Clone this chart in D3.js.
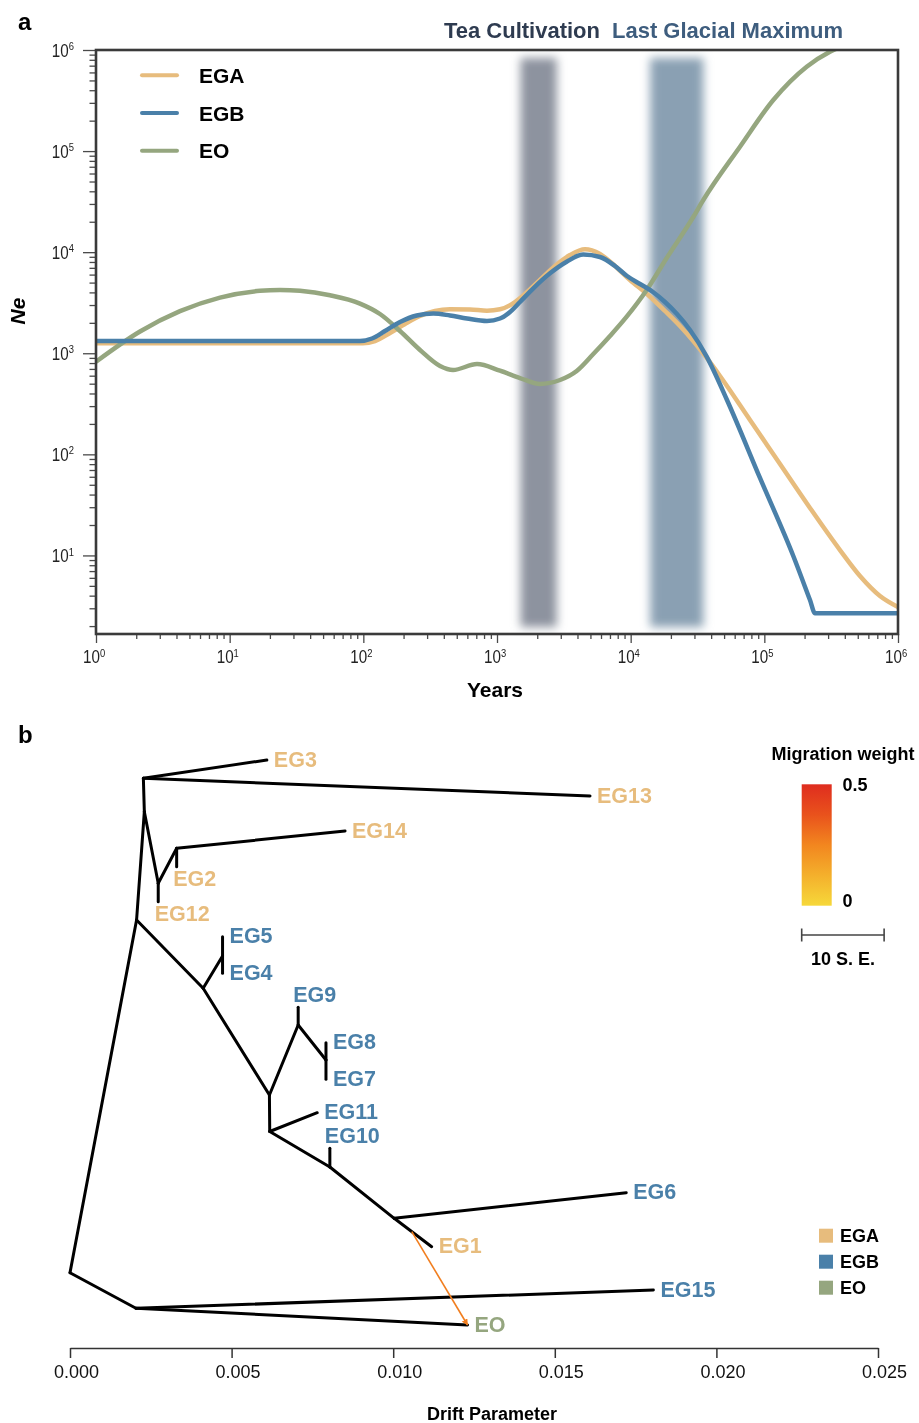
<!DOCTYPE html>
<html>
<head>
<meta charset="utf-8">
<script src="https://cdn.jsdelivr.net/npm/d3@7"></script>
<style>
  body { margin: 0; background: #fff; }
  svg { display: block; font-family: "Liberation Sans", Arial, Helvetica, sans-serif; }
</style>
</head>
<body>
<svg id="chart" width="919" height="1423"></svg>
<script>
// ---------- panel a: effective population size, [years, Ne]
const egaCurve = [
  [1, 1255], [10, 1255], [99.4, 1255], [122.3, 1322], [158.3, 1587], [205, 1948], [265.4, 2337],
  [343.7, 2619], [444.9, 2722], [628.1, 2710], [841.6, 2637], [1053, 2722], [1317, 3106],
  [1620, 3857], [2097, 5306], [2715, 7302], [3516, 9378], [4553, 10680], [5895, 9594],
  [7633, 7302], [9886, 5306], [13250, 3857], [18060, 2619], [23390, 1860], [29410, 1322],
  [36600, 919], [46580, 596], [78120, 219], [131000, 80.3], [219600, 29.5], [368100, 11.3],
  [519500, 6.26], [733300, 3.97], [1e6, 3.09]
];
const egbCurve = [
  [1, 1322], [10, 1322], [94.4, 1322], [116.1, 1400], [145.2, 1661], [188.1, 2039], [250.7, 2363],
  [333.8, 2474], [444.9, 2363], [596.4, 2207], [841.6, 2085], [1053, 2207], [1251, 2560],
  [1486, 3215], [1869, 4392], [2491, 6182], [3321, 8049], [4421, 9484], [5895, 8963],
  [7633, 7302], [9387, 5813], [11740, 4844], [14690, 4036], [18060, 3215], [22210, 2446],
  [27790, 1699], [37050, 925], [52560, 345], [92770, 58.4], [164700, 9.87], [219600, 3.62],
  [239300, 2.68], [1e6, 2.68]
];
const eoCurve = [
  [1, 825], [2.134, 1642], [4.25, 2607], [8.47, 3554], [16.86, 4148], [23.8, 4225], [33.6, 4148],
  [56.3, 3745], [94.4, 3099], [133.2, 2446], [188.1, 1661], [265.4, 1077], [374.6, 748],
  [468.8, 683], [708.7, 783], [1053, 672], [1486, 569], [2097, 497], [2960, 544], [3947, 668],
  [5253, 983], [7005, 1482], [9338, 2300], [13180, 4225], [18600, 8759], [29400, 22280],
  [34940, 32830], [65740, 110500], [116700, 320200], [207400, 683800], [309800, 962100],
  [401200, 1120000]
];
const populations = ["EGA", "EGB", "EO"];
const popCurves = [egaCurve, egbCurve, eoCurve];
const popColors = ["#e7bc7d", "#4a80a9", "#95a67f"];

const periodNames = ["Tea Cultivation", "Last Glacial Maximum"];
const periodYears = [[1500, 2800], [14000, 35000]];
const periodFill = ["#8d939f", "#8aa0b3"];
const periodText = ["#2e3b50", "#3e5d7e"];

// ---------- panel b: TreeMix tree, [id, drift, vertical row]
const treeNodes = [
  ["R", 0, 53.27], ["A", 0.00227, 3.83], ["B", 0.00230, 7.17], ["C", 0.00273, 14.33],
  ["E", 0.00330, 10.83], ["D", 0.00206, 18.0], ["F", 0.00412, 24.83], ["G", 0.00472, 21.6],
  ["H", 0.00617, 35.5], ["I", 0.00706, 28.5], ["J", 0.00792, 32.0], ["K", 0.00618, 39.15],
  ["L", 0.00804, 42.7], ["M", 0.01003, 47.83], ["N", 0.00204, 56.83],
  ["EG3", 0.00609, 2.0], ["EG13", 0.01609, 5.6], ["EG14", 0.00851, 9.1], ["EG2", 0.00330, 12.67],
  ["EG12", 0.00273, 16.17], ["EG5", 0.00472, 19.67], ["EG4", 0.00472, 23.33],
  ["EG9", 0.00706, 26.73], ["EG8", 0.00792, 30.27], ["EG7", 0.00792, 33.93],
  ["EG11", 0.00765, 37.27], ["EG10", 0.00804, 40.83], ["EG6", 0.01721, 45.27],
  ["EG1", 0.01119, 50.67], ["EG15", 0.01805, 55.0], ["EO", 0.01230, 58.5]
];
const treeEdges = [
  ["R", "D"], ["R", "N"], ["D", "B"], ["B", "A"], ["A", "EG3"], ["A", "EG13"], ["B", "C"],
  ["C", "EG12"], ["C", "E"], ["E", "EG2"], ["E", "EG14"], ["D", "F"], ["F", "G"],
  ["G", "EG5"], ["G", "EG4"], ["F", "H"], ["H", "I"], ["I", "EG9"], ["I", "J"],
  ["J", "EG8"], ["J", "EG7"], ["H", "K"], ["K", "EG11"], ["K", "L"], ["L", "EG10"],
  ["L", "M"], ["M", "EG6"], ["M", "EG1"], ["N", "EG15"], ["N", "EO"]
];
const egaLeaves = ["EG3", "EG13", "EG14", "EG2", "EG12", "EG1"];
const egbLeaves = ["EG5", "EG4", "EG9", "EG8", "EG7", "EG11", "EG10", "EG6", "EG15"];
const eoLeaves = ["EO"];
const labelAbove = ["EG9", "EG10"];
const labelBelow = ["EG2", "EG12"];

// migration edge: starts part way along an edge, ends at a leaf
const migrations = [{ edge: ["M", "EG1"], at: 0.47, to: "EO", weight: 0.27 }];
const migWeightDomain = [0, 0.5];
const driftTicks = [0, 0.005, 0.010, 0.015, 0.020, 0.025];
const seDrift = 0.00255; // length of 10 S.E. in drift units

const svg = d3.select("#chart");
const defs = svg.append("defs");

// ================= panel a =================
const xA = d3.scaleLog().domain([1, 1e6]).range([96, 898]);
const yA = d3.scaleLog().domain([1.67, 1e6]).range([634, 50]);
const [x0, x1] = xA.range();
const [yBot, yTop] = yA.range();

const decades = (lo, hi) => d3.range(0, 7).map(k => 10 ** k).filter(v => v >= lo && v <= hi);
const minors = (lo, hi) => d3.range(0, 7).flatMap(k => d3.range(2, 10).map(m => m * 10 ** k))
  .filter(v => v >= lo && v <= hi);

defs.append("clipPath").attr("id", "plotA")
  .append("rect").attr("x", x0).attr("y", yTop).attr("width", x1 - x0).attr("height", yBot - yTop);
const blur = defs.append("filter").attr("id", "soft")
  .attr("x", "-60%").attr("y", "-10%").attr("width", "220%").attr("height", "120%");
blur.append("feGaussianBlur").attr("stdDeviation", 5);

svg.append("text").attr("x", 18).attr("y", 30)
  .style("font-size", "24px").style("font-weight", "bold").text("a");

const bands = svg.append("g");
function band(i) {
  return bands.append("rect")
    .attr("x", xA(periodYears[i][0]))
    .attr("width", xA(periodYears[i][1]) - xA(periodYears[i][0]))
    .attr("y", yTop + 8).attr("height", yBot - yTop - 15)
    .attr("fill", periodFill[i])
    .attr("filter", "url(#soft)");
}
band(1);

const line = d3.line().x(d => xA(d[0])).y(d => yA(d[1])).curve(d3.curveMonotoneX);
const lines = svg.append("g").attr("clip-path", "url(#plotA)");
[0, 2, 1].forEach(i => {
  lines.append("path")
    .attr("d", line(popCurves[i]))
    .attr("fill", "none")
    .attr("stroke", popColors[i])
    .attr("stroke-width", 4.5)
    .attr("stroke-linejoin", "round");
});

band(0).style("mix-blend-mode", "multiply");

// period titles
svg.append("text").attr("x", 600).attr("y", 38).attr("text-anchor", "end")
  .style("font-size", "22px").style("font-weight", "bold").attr("fill", periodText[0])
  .text(periodNames[0]);
svg.append("text").attr("x", 612).attr("y", 38)
  .style("font-size", "22px").style("font-weight", "bold").attr("fill", periodText[1])
  .text(periodNames[1]);

const squeeze = 0.8;
function powLabel(sel) {
  sel.each(function (d) {
    const t = d3.select(this).text(null);
    t.append("tspan").text("10");
    t.append("tspan").attr("dy", "-0.55em").style("font-size", "0.62em")
      .text(Math.round(Math.log10(d)));
  });
}

function styleAxis(g) {
  g.select(".domain").remove();
  g.selectAll(".tick line").attr("stroke", "#4a4a4a").attr("stroke-width", 1.3);
  g.selectAll(".tick text").attr("fill", "#222").style("font-size", "19px");
}

svg.append("g").attr("transform", `translate(0,${yBot})`)
  .call(d3.axisBottom(xA).tickValues(minors(1, 1e6)).tickSize(5).tickFormat(""))
  .call(styleAxis);
svg.append("g").attr("transform", `translate(0,${yBot})`)
  .call(d3.axisBottom(xA).tickValues(decades(1, 1e6)).tickSize(9).tickPadding(7))
  .call(styleAxis)
  .call(g => g.selectAll(".tick text").attr("x", -3)
    .attr("transform", `scale(${squeeze},1)`).call(powLabel));

svg.append("g").attr("transform", `translate(${x0},0)`)
  .call(d3.axisLeft(yA).tickValues(minors(1.67, 1e6)).tickSize(6.5).tickFormat(""))
  .call(styleAxis);
svg.append("g").attr("transform", `translate(${x0},0)`)
  .call(d3.axisLeft(yA).tickValues(decades(10, 1e6)).tickSize(13).tickPadding(9))
  .call(styleAxis)
  .call(g => g.selectAll(".tick text").attr("x", -22 / squeeze)
    .attr("transform", `scale(${squeeze},1)`).call(powLabel));

svg.append("rect")
  .attr("x", x0).attr("y", yTop).attr("width", x1 - x0).attr("height", yBot - yTop)
  .attr("fill", "none").attr("stroke", "#3a3a3a").attr("stroke-width", 2.6);

svg.append("text").attr("x", 495).attr("y", 697).attr("text-anchor", "middle")
  .style("font-size", "21px").style("font-weight", "bold").text("Years");
svg.append("text").attr("transform", "translate(25,311) rotate(-90)")
  .attr("text-anchor", "middle")
  .style("font-size", "21px").style("font-weight", "bold").style("font-style", "italic").text("Ne");

const legA = svg.append("g").selectAll("g").data(populations).join("g")
  .attr("transform", (d, i) => `translate(142,${75.3 + i * 37.7})`);
legA.append("line").attr("x1", 0).attr("x2", 35)
  .attr("stroke", (d, i) => popColors[i]).attr("stroke-width", 4).attr("stroke-linecap", "round");
legA.append("text").attr("x", 57).attr("dy", "0.36em")
  .style("font-size", "21px").style("font-weight", "bold").text(d => d);

// ================= panel b =================
const xB = d3.scaleLinear().domain([0, 0.025]).range([70, 878]);
const yB = d3.scaleLinear().domain([0, 60]).range([740, 1340]);
const nodeById = new Map(treeNodes.map(d => [d[0], { id: d[0], x: xB(d[1]), y: yB(d[2]) }]));

const popOf = id => egaLeaves.includes(id) ? 0 : egbLeaves.includes(id) ? 1 : eoLeaves.includes(id) ? 2 : -1;

svg.append("text").attr("x", 18).attr("y", 743)
  .style("font-size", "24px").style("font-weight", "bold").text("b");

svg.append("g").selectAll("line").data(treeEdges).join("line")
  .attr("x1", d => nodeById.get(d[0]).x).attr("y1", d => nodeById.get(d[0]).y)
  .attr("x2", d => nodeById.get(d[1]).x).attr("y2", d => nodeById.get(d[1]).y)
  .attr("stroke", "#000").attr("stroke-width", 3).attr("stroke-linecap", "round");

const leaves = treeNodes.map(d => d[0]).filter(id => popOf(id) >= 0);
svg.append("g").selectAll("text").data(leaves).join("text")
  .attr("x", d => nodeById.get(d).x + (labelAbove.includes(d) ? -5 : labelBelow.includes(d) ? -3.5 : 7))
  .attr("y", d => nodeById.get(d).y + (labelAbove.includes(d) ? -13 : labelBelow.includes(d) ? 11.5 : -1))
  .attr("dy", "0.36em")
  .attr("fill", d => popColors[popOf(d)])
  .style("font-size", "21.5px").style("font-weight", "bold")
  .text(d => d);

// migration colour scale
const migColor = d3.scaleLinear()
  .domain([0, 0.125, 0.25, 0.375, 0.5])
  .range(["#f6d83a", "#f4b02c", "#f2861f", "#e9521c", "#df2d1f"]);

defs.append("marker").attr("id", "arrow").attr("viewBox", "0 0 10 10")
  .attr("refX", 9).attr("refY", 5).attr("markerWidth", 4).attr("markerHeight", 4)
  .attr("orient", "auto")
  .append("path").attr("d", "M0,0L10,5L0,10z").attr("fill", migColor(migrations[0].weight));

svg.append("g").selectAll("line").data(migrations).join("line")
  .attr("x1", d => { const a = nodeById.get(d.edge[0]), b = nodeById.get(d.edge[1]); return a.x + (b.x - a.x) * d.at; })
  .attr("y1", d => { const a = nodeById.get(d.edge[0]), b = nodeById.get(d.edge[1]); return a.y + (b.y - a.y) * d.at; })
  .attr("x2", d => nodeById.get(d.to).x)
  .attr("y2", d => nodeById.get(d.to).y)
  .attr("stroke", d => migColor(d.weight)).attr("stroke-width", 1.6)
  .attr("marker-end", "url(#arrow)");

// drift axis
const axB = svg.append("g").attr("transform", "translate(0,1348)")
  .call(d3.axisBottom(xB).tickValues(driftTicks).tickSize(10).tickSizeOuter(0)
    .tickPadding(7).tickFormat(d3.format(".3f")));
axB.select(".domain").attr("stroke", "#333").attr("stroke-width", 1.5);
axB.selectAll(".tick line").attr("stroke", "#333").attr("stroke-width", 1.5);
axB.selectAll(".tick text").attr("dx", 6).attr("fill", "#111").style("font-size", "18px");
svg.append("text").attr("x", 492).attr("y", 1420).attr("text-anchor", "middle")
  .style("font-size", "18px").style("font-weight", "bold").text("Drift Parameter");

// migration weight legend
const yLeg = d3.scaleLinear().domain(migWeightDomain).range([905.7, 784.3]);
const grad = defs.append("linearGradient").attr("id", "migGrad")
  .attr("x1", 0).attr("y1", 1).attr("x2", 0).attr("y2", 0);
migColor.domain().forEach(v => {
  grad.append("stop").attr("offset", v / migWeightDomain[1]).attr("stop-color", migColor(v));
});
svg.append("text").attr("x", 771.5).attr("y", 759.5)
  .style("font-size", "18px").style("font-weight", "bold").text("Migration weight");
svg.append("rect").attr("x", 801.7).attr("y", yLeg(0.5)).attr("width", 30)
  .attr("height", yLeg(0) - yLeg(0.5)).attr("fill", "url(#migGrad)");
svg.append("g").selectAll("text").data(migWeightDomain).join("text")
  .attr("x", 842.5).attr("y", d => yLeg(d) + (d === 0 ? -5 : 0)).attr("dy", "0.36em")
  .style("font-size", "18px").style("font-weight", "bold")
  .text(d => d === 0 ? "0" : d);

// scale bar
const seLen = xB(seDrift) - xB(0);
const seBar = svg.append("g").attr("transform", "translate(801.7,935)")
  .attr("stroke", "#444").attr("stroke-width", 1.6);
seBar.append("line").attr("x1", 0).attr("x2", seLen);
seBar.append("line").attr("x1", 0).attr("x2", 0).attr("y1", -6.5).attr("y2", 6.5);
seBar.append("line").attr("x1", seLen).attr("x2", seLen).attr("y1", -6.5).attr("y2", 6.5);
svg.append("text").attr("x", 801.7 + seLen / 2).attr("y", 965).attr("text-anchor", "middle")
  .style("font-size", "18px").style("font-weight", "bold").text("10 S. E.");

// population legend
const legB = svg.append("g").selectAll("g").data(populations).join("g")
  .attr("transform", (d, i) => `translate(819,${1235.7 + i * 26})`);
legB.append("rect").attr("x", 0).attr("y", -7).attr("width", 14).attr("height", 14)
  .attr("fill", (d, i) => popColors[i]);
legB.append("text").attr("x", 21).attr("dy", "0.36em")
  .style("font-size", "18px").style("font-weight", "bold").text(d => d);
</script>
</body>
</html>
